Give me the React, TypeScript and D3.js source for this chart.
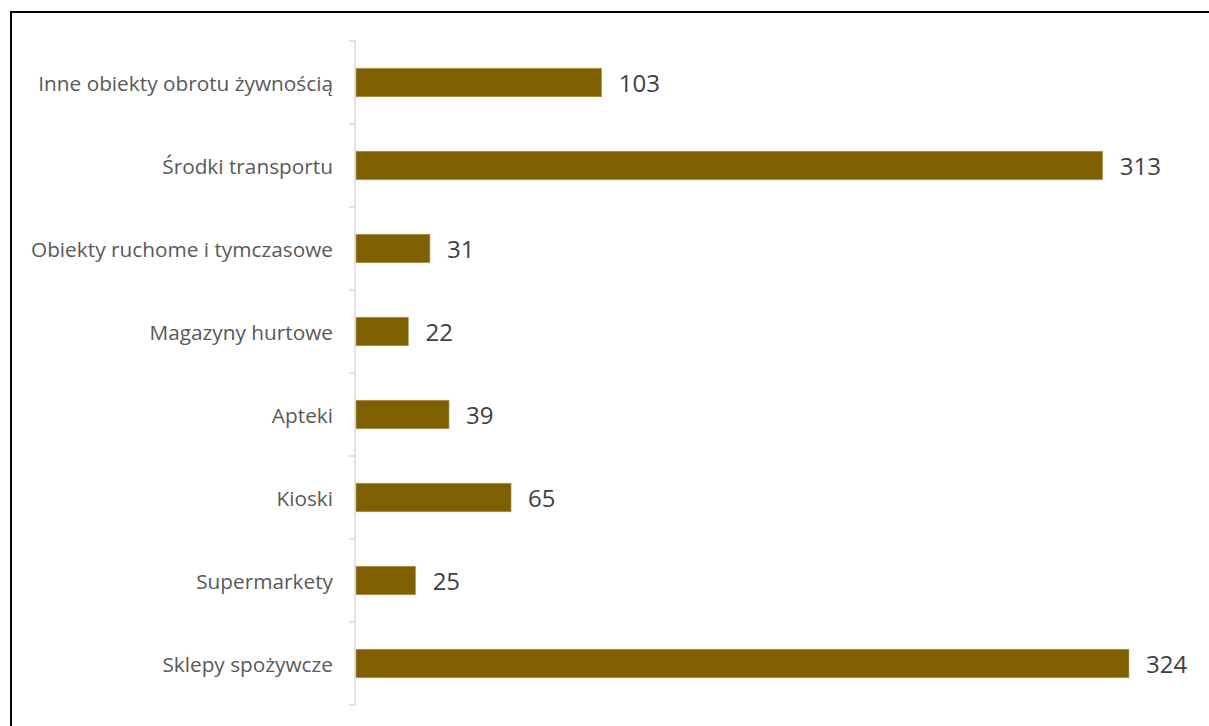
import React from "react";
import * as d3 from "d3";

const categories = [
  "Inne obiekty obrotu żywnością",
  "Środki transportu",
  "Obiekty ruchome i tymczasowe",
  "Magazyny hurtowe",
  "Apteki",
  "Kioski",
  "Supermarkety",
  "Sklepy spożywcze",
];
const values = [103, 313, 31, 22, 39, 65, 25, 324];

export default function App() {
  const W = 1209;
  const H = 726;
  const x0 = 356;
  const x = d3.scaleLinear().domain([0, 324]).range([x0, 1129]);
  const y = d3
    .scaleBand<string>()
    .domain(categories)
    .range([41, 705])
    .paddingInner(0.655)
    .paddingOuter(0.3275);
  const step = y.step();
  const tickYs = d3.range(categories.length + 1).map((i) => 41 + i * step);
  const font = "'Open Sans', 'Liberation Sans', sans-serif";

  return (
    <svg
      width={W}
      height={H}
      style={{ position: "absolute", left: 0, top: 0, background: "#fff" }}
    >
      <rect x={0} y={0} width={W} height={H} fill="#fff" />
      <rect x={11} y={12} width={W + 100} height={H + 100} fill="none" stroke="#000" strokeWidth={2} />
      {/* axis */}
      <line x1={355} x2={355} y1={41} y2={705} stroke="#D9D9D9" strokeWidth={1.5} />
      {tickYs.map((ty, i) => (
        <line key={i} x1={349} x2={355} y1={ty} y2={ty} stroke="#D9D9D9" strokeWidth={1.5} />
      ))}
      {categories.map((c, i) => {
        const by = y(c)!;
        const cy = by + y.bandwidth() / 2;
        return (
          <g key={c}>
            <rect
              x={x(0)}
              y={by}
              width={x(values[i]) - x(0)}
              height={y.bandwidth()}
              fill="#7F6000"
              stroke="#BFA96A"
              strokeWidth={0.6}
            />
            <text
              x={333}
              y={cy}
              textAnchor="end"
              dominantBaseline="central"
              fontFamily={font}
              fontSize={20.8}
              fill="#595959"
            >
              {c}
            </text>
            <text
              x={x(values[i]) + 17}
              y={cy}
              dominantBaseline="central"
              fontFamily={font}
              fontSize={24}
              fill="#404040"
            >
              {values[i]}
            </text>
          </g>
        );
      })}
    </svg>
  );
}
